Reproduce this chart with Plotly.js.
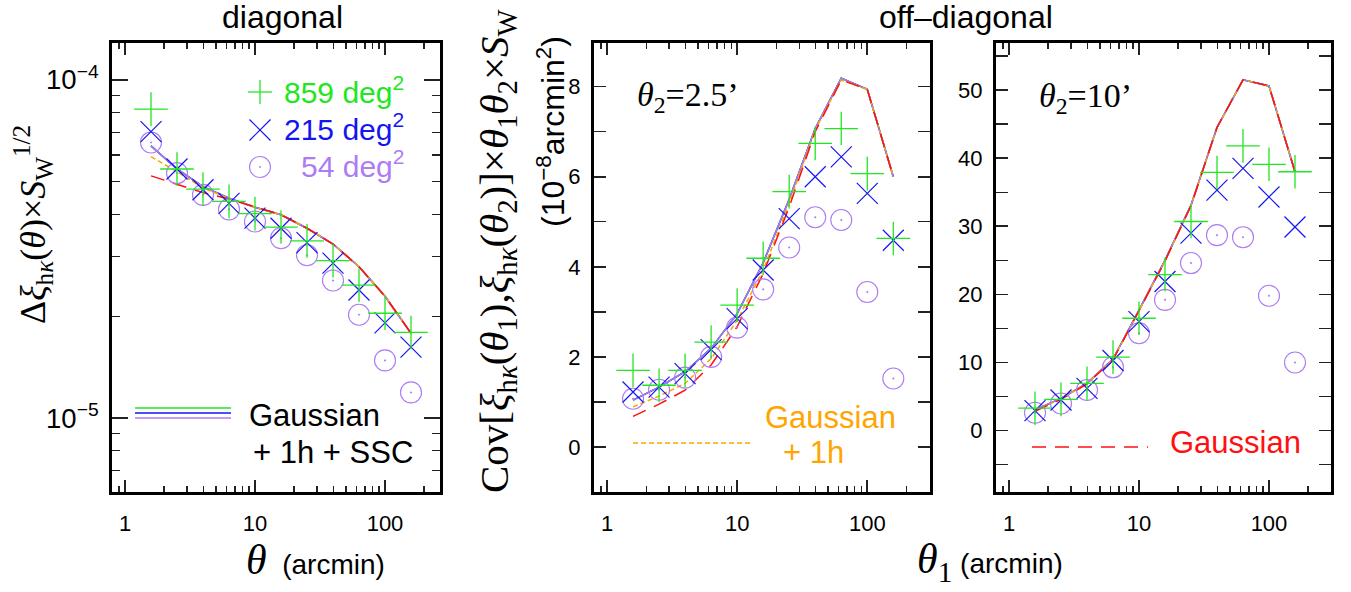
<!DOCTYPE html>
<html>
<head>
<meta charset="utf-8">
<script src="https://cdn.plot.ly/plotly-3.0.1.min.js"></script>
<style>html,body{margin:0;padding:0;background:#fff;}#chart{width:1351px;height:592px;}</style>
</head>
<body>
<div id="chart"></div>
<script>
// ---- data ----
const theta = [1.585, 2.512, 3.981, 6.310, 10.0, 15.85, 25.12, 39.81, 63.10, 100.0, 158.5];

// diagonal panel
const diag859  = [8.19e-5, 5.45e-5, 4.75e-5, 4.37e-5, 4.02e-5, 3.67e-5, 3.34e-5, 2.92e-5, 2.47e-5, 2.04e-5, 1.79e-5];
const diag215  = [7.03e-5, 5.45e-5, 4.73e-5, 4.31e-5, 3.90e-5, 3.64e-5, 3.30e-5, 2.87e-5, 2.39e-5, 1.91e-5, 1.62e-5];
const diag54   = [6.53e-5, 5.30e-5, 4.57e-5, 4.14e-5, 3.81e-5, 3.40e-5, 3.03e-5, 2.55e-5, 2.02e-5, 1.48e-5, 1.19e-5];
const diagFull = [6.38e-5, 5.45e-5, 4.83e-5, 4.47e-5, 4.20e-5, 3.99e-5, 3.64e-5, 3.27e-5, 2.80e-5, 2.29e-5, 1.78e-5];
const diag1h   = [5.93e-5, 5.35e-5, 4.79e-5, 4.45e-5, 4.20e-5, 3.99e-5, 3.64e-5, 3.27e-5, 2.80e-5, 2.29e-5, 1.78e-5];
const diagGau  = [5.20e-5, 4.92e-5, 4.64e-5, 4.44e-5, 4.20e-5, 3.99e-5, 3.64e-5, 3.27e-5, 2.80e-5, 2.29e-5, 1.78e-5];

// off-diagonal, theta2 = 2.5'
const o25_859  = [1.70, 1.37, 1.70, 2.33, 3.15, 4.19, 5.67, 6.74, 7.07, 6.07, 4.63];
const o25_215  = [1.22, 1.33, 1.63, 2.16, 2.85, 3.93, 5.07, 6.00, 6.44, 5.63, 4.59];
const o25_54   = [1.07, 1.27, 1.54, 2.00, 2.65, 3.50, 4.43, 5.10, 5.04, 3.44, 1.52];
const o25Full  = [1.04, 1.33, 1.67, 2.19, 2.96, 4.09, 5.50, 7.07, 8.19, 7.94, 6.00];
const o25_1h   = [0.89, 1.13, 1.41, 1.96, 2.81, 3.93, 5.41, 7.04, 8.15, 7.94, 6.00];
const o25Gau   = [0.68, 0.95, 1.26, 1.82, 2.67, 3.85, 5.33, 7.00, 8.15, 7.94, 6.00];

// off-diagonal, theta2 = 10'
const o10_859  = [3.3, 4.6, 6.95, 10.8, 16.5, 22.9, 30.7, 37.9, 41.8, 39.1, 38.0];
const o10_215  = [2.94, 4.5, 6.2, 10.3, 16.0, 21.9, 29.0, 35.3, 38.5, 34.3, 29.9];
const o10_54   = [2.64, 4.0, 5.97, 9.3, 14.3, 19.2, 24.6, 28.7, 28.4, 19.8, 10.0];
const o10Full  = [3.04, 4.75, 6.95, 10.5, 17.7, 25.0, 33.1, 44.5, 51.5, 50.6, 38.0];
const o10_1h   = [2.95, 4.70, 6.90, 10.5, 17.6, 24.9, 33.0, 44.5, 51.5, 50.6, 38.0];
const o10Gau   = [2.85, 4.60, 6.85, 10.4, 17.6, 24.9, 33.0, 44.5, 51.5, 50.6, 38.0];

// minor tick positions (2..9 of each decade)
function logMinor(e0, e1) {
  const v = [];
  for (let e = e0; e <= e1; e++) for (let m = 2; m <= 9; m++) v.push(m * Math.pow(10, e));
  return v;
}
const xMinor = logMinor(-1, 2);
const yMinor = logMinor(-6, -4);

// ---- styles ----
const GREEN = '#22e622', BLUE = '#1515f0', PURPLE = '#ad7cf2', ORANGE = '#ffa500', RED = '#ff1010';
const TICKC = '#222';
const W = 1351, H = 592;
const px = v => v / W, py = v => 1 - v / H;

const traces = [];
function panel(xa, ya, full, oneh, gau, a, b, c) {
  [[full, GREEN], [full, BLUE], [full, PURPLE]].forEach(([y, col]) => {
    traces.push({x: theta, y: y, xaxis: xa, yaxis: ya, mode: 'lines', line: {color: col, width: 1.5}});
  });
  traces.push({x: theta, y: oneh, xaxis: xa, yaxis: ya, mode: 'lines', line: {color: ORANGE, width: 1.5, dash: '5px,3px'}});
  traces.push({x: theta, y: gau, xaxis: xa, yaxis: ya, mode: 'lines', line: {color: RED, width: 1.5, dash: '14px,9px'}});
  traces.push({x: theta, y: c, xaxis: xa, yaxis: ya, mode: 'markers',
    marker: {symbol: 'circle-open-dot', size: 21, color: PURPLE, line: {width: 1.1, color: PURPLE}}});
  traces.push({x: theta, y: b, xaxis: xa, yaxis: ya, mode: 'markers',
    marker: {symbol: 'x-thin-open', size: 21, color: BLUE, line: {width: 1.2, color: BLUE}}});
  traces.push({x: theta, y: a, xaxis: xa, yaxis: ya, mode: 'markers',
    marker: {symbol: 'cross-thin-open', size: 24, color: GREEN, line: {width: 1.3, color: GREEN}}});
}
panel('x', 'y', diagFull, diag1h, diagGau, diag859, diag215, diag54);
panel('x2', 'y2', o25Full, o25_1h, o25Gau, o25_859, o25_215, o25_54);
panel('x3', 'y3', o10Full, o10_1h, o10Gau, o10_859, o10_215, o10_54);
// empty traces so the minor-tick overlay axes get drawn
[['x4', 'y'], ['x5', 'y2'], ['x6', 'y3'], ['x', 'y4']].forEach(([xa, ya]) => {
  traces.push({x: [], y: [], xaxis: xa, yaxis: ya, mode: 'markers', hoverinfo: 'skip'});
});

const tickFont = {family: 'Liberation Sans, Arial, sans-serif', size: 22, color: '#000'};
function xAxis(d0, d1, r1, anchor) {
  return {
    type: 'log', domain: [px(d0), px(d1)], range: [-0.1, r1], anchor: anchor,
    dtick: 1,
    ticks: 'inside', ticklen: 12, tickwidth: 1.6, tickcolor: TICKC,
    showline: true, linewidth: 3, linecolor: '#000', mirror: 'ticks',
    showgrid: false, zeroline: false, tickfont: tickFont, ticklabelstandoff: 10
  };
}
function xMinorAxis(base, d0, d1, r1, anchor) {
  return {
    type: 'log', overlaying: base, domain: [px(d0), px(d1)], range: [-0.1, r1], anchor: anchor,
    tickmode: 'array', tickvals: xMinor, showticklabels: false,
    ticks: 'inside', ticklen: 6, tickwidth: 1.3, tickcolor: TICKC,
    showline: true, linewidth: 3, linecolor: '#000', mirror: 'ticks',
    showgrid: false, zeroline: false
  };
}
const yDom = [py(492), py(43)];
const layout = {
  width: W, height: H, autosize: false,
  margin: {l: 0, r: 0, t: 0, b: 0},
  paper_bgcolor: '#fff', plot_bgcolor: '#fff',
  showlegend: false,
  xaxis: xAxis(112, 440, 2.423, 'y'),
  xaxis2: xAxis(594, 930, 2.482, 'y2'),
  xaxis3: xAxis(996, 1331, 2.477, 'y3'),
  xaxis4: xMinorAxis('x', 112, 440, 2.423, 'y'),
  xaxis5: xMinorAxis('x2', 594, 930, 2.482, 'y2'),
  xaxis6: xMinorAxis('x3', 996, 1331, 2.477, 'y3'),
  yaxis: {
    type: 'log', domain: yDom, range: [-5.219, -3.891], anchor: 'x',
    dtick: 1, exponentformat: 'power',
    ticks: 'inside', ticklen: 16, tickwidth: 1.6, tickcolor: TICKC,
    showline: true, linewidth: 3, linecolor: '#000', mirror: 'ticks',
    showgrid: false, zeroline: false, tickfont: tickFont, ticklabelstandoff: 6
  },
  yaxis4: {
    type: 'log', overlaying: 'y', domain: yDom, range: [-5.219, -3.891], anchor: 'x',
    tickmode: 'array', tickvals: yMinor, showticklabels: false,
    ticks: 'inside', ticklen: 8, tickwidth: 1.3, tickcolor: TICKC,
    showline: true, linewidth: 3, linecolor: '#000', mirror: 'ticks',
    showgrid: false, zeroline: false
  },
  yaxis2: {
    domain: yDom, range: [-1, 8.97], anchor: 'x2', dtick: 2, tick0: 0,
    ticks: 'inside', ticklen: 12, tickwidth: 1.6, tickcolor: TICKC,
    minor: {ticks: 'inside', ticklen: 12, dtick: 1, tickwidth: 1.3, tickcolor: TICKC, showgrid: false},
    showline: true, linewidth: 3, linecolor: '#000', mirror: 'ticks',
    showgrid: false, zeroline: false, tickfont: tickFont, ticklabelstandoff: 6
  },
  yaxis3: {
    domain: yDom, range: [-9, 56.9], anchor: 'x3', dtick: 10, tick0: 0,
    ticks: 'inside', ticklen: 12, tickwidth: 1.6, tickcolor: TICKC,
    minor: {ticks: 'inside', ticklen: 12, dtick: 5, tickwidth: 1.3, tickcolor: TICKC, showgrid: false},
    showline: true, linewidth: 3, linecolor: '#000', mirror: 'ticks',
    showgrid: false, zeroline: false, tickfont: tickFont, ticklabelstandoff: 6
  },
  shapes: [],
  annotations: []
};

const SANS = 'Liberation Sans, Arial, sans-serif';
const SERIF = 'Liberation Serif, Times New Roman, serif';
function ann(text, x, y, opts) {
  layout.annotations.push(Object.assign({
    text: text, x: px(x), y: py(y), xref: 'paper', yref: 'paper',
    showarrow: false, xanchor: 'center', yanchor: 'middle',
    font: {family: SANS, size: 26, color: '#000'}
  }, opts || {}));
}
function seg(x0, y0, x1, y1, color, width, dash) {
  layout.shapes.push({type: 'line', xref: 'paper', yref: 'paper',
    x0: px(x0), y0: py(y0), x1: px(x1), y1: py(y1),
    line: {color: color, width: width, dash: dash || 'solid'}});
}

// titles
ann('diagonal', 282, 17, {font: {family: SANS, size: 32, color: '#000'}});
ann('off\u2013diagonal', 966, 17, {font: {family: SANS, size: 32, color: '#000'}});

// axis titles
ann('<span style="font-family:Liberation Serif;font-size:42px"><i>θ</i></span>  (arcmin)', 315, 560, {font: {family: SANS, size: 28, color: '#000'}});
ann('<span style="font-family:Liberation Serif;font-size:42px"><i>θ</i><sub>1</sub></span> (arcmin)', 990, 562, {font: {family: SANS, size: 28, color: '#000'}});
ann('Δ<i>ξ</i><sub>h<i>κ</i></sub>(<i>θ</i>)×<i>S</i><sub>W</sub><sup>1/2</sup>', 33, 225, {textangle: -90, font: {family: SERIF, size: 36, color: '#000'}});
ann('Cov[<i>ξ</i><sub>h<i>κ</i></sub>(<i>θ</i><sub>1</sub>),<i>ξ</i><sub>h<i>κ</i></sub>(<i>θ</i><sub>2</sub>)]×<i>θ</i><sub>1</sub><i>θ</i><sub>2</sub>×<i>S</i><sub>W</sub>', 497, 250, {textangle: -90, font: {family: SERIF, size: 41, color: '#000'}});
ann('(10<sup>−8</sup>arcmin<sup>2</sup>)', 551, 132, {textangle: -90, font: {family: SANS, size: 32, color: '#000'}});

// panel labels
ann('<i>θ</i><sub>2</sub>=2.5’', 635, 97, {xanchor: 'left', font: {family: SERIF, size: 34, color: '#000'}});
ann('<i>θ</i><sub>2</sub>=10’', 1037, 98, {xanchor: 'left', font: {family: SERIF, size: 34, color: '#000'}});

// survey-area key (left panel)
seg(248, 92, 272, 92, GREEN, 1.3); seg(260, 80, 260, 104, GREEN, 1.3);
seg(249.5, 119.5, 270.5, 140.5, BLUE, 1.2); seg(249.5, 140.5, 270.5, 119.5, BLUE, 1.2);
layout.shapes.push({type: 'circle', xref: 'paper', yref: 'paper', x0: px(249.5), x1: px(270.5), y0: py(156.5), y1: py(177.5), line: {color: PURPLE, width: 1.1}});
layout.shapes.push({type: 'circle', xref: 'paper', yref: 'paper', x0: px(259.3), x1: px(260.7), y0: py(166.3), y1: py(167.7), line: {color: PURPLE, width: 0.6}, fillcolor: PURPLE});
ann('859 deg<sup>2</sup>', 406, 90, {xanchor: 'right', font: {family: SANS, size: 30, color: GREEN}});
ann('215 deg<sup>2</sup>', 406, 127, {xanchor: 'right', font: {family: SANS, size: 30, color: BLUE}});
ann('54 deg<sup>2</sup>', 406, 164, {xanchor: 'right', font: {family: SANS, size: 30, color: PURPLE}});

// line-style keys
seg(135, 408, 231, 408, GREEN, 1.5);
seg(135, 413, 231, 413, BLUE, 1.5);
seg(135, 418, 231, 418, PURPLE, 1.5);
ann('Gaussian', 247, 415, {xanchor: 'left', font: {family: SANS, size: 31, color: '#000'}});
ann('+ 1h + SSC', 415, 452, {xanchor: 'right', font: {family: SANS, size: 31, color: '#000'}});

seg(633, 443, 750, 443, ORANGE, 1.5, '5px,3px');
ann('Gaussian', 763, 417, {xanchor: 'left', font: {family: SANS, size: 31, color: ORANGE}});
ann('+ 1h', 813, 452, {font: {family: SANS, size: 31, color: ORANGE}});

seg(1032, 447, 1148, 447, RED, 1.5, '14px,9px');
ann('Gaussian', 1168, 442, {xanchor: 'left', font: {family: SANS, size: 31, color: RED}});

Plotly.newPlot('chart', traces, layout, {displayModeBar: false, staticPlot: true});
</script>
</body>
</html>
